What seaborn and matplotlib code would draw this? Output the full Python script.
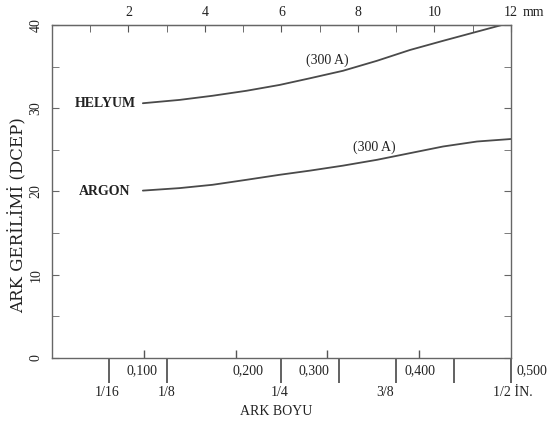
import numpy as np
import pandas as pd
import matplotlib
matplotlib.use("Agg")
import matplotlib.pyplot as plt
import seaborn as sns

# arc length (inch) and arc voltage
helyum_x = [0.099, 0.139, 0.175, 0.212, 0.248, 0.281, 0.317, 0.354, 0.390, 0.426, 0.463, 0.490]
helyum_v = [30.6, 31.0, 31.5, 32.1, 32.8, 33.6, 34.5, 35.7, 37.0, 38.1, 39.2, 40.0]
argon_x = [0.099, 0.139, 0.175, 0.212, 0.248, 0.281, 0.317, 0.354, 0.390, 0.426, 0.463, 0.500]
argon_v = [20.1, 20.4, 20.8, 21.4, 22.0, 22.5, 23.1, 23.8, 24.6, 25.4, 26.0, 26.3]

y_ticks = [0, 10, 20, 30, 40]
mm_ticks = [2, 4, 6, 8, 10, 12]
inch_ticks = [1/16, 1/8, 1/4, 5/16, 3/8, 7/16, 1/2]
frac_labels = ["1/16", "1/8", "1/4", "3/8", "1/2 İN."]
frac_label_x = [0.060, 0.125, 0.248, 0.363, 0.480]
dec_ticks = [0.1, 0.2, 0.3, 0.4]
dec_labels = ["0,100", "0,200", "0,300", "0,400", "0,500"]
dec_label_x = [0.098, 0.214, 0.285, 0.401, 0.523]

sns.set_style("white")
plt.rcParams["font.family"] = ["Liberation Serif", "DejaVu Serif"]

ink = "#222222"
line_col = "#4a4a4a"

fig = plt.figure(figsize=(5.56, 4.24), dpi=100)
ax = fig.add_axes([0.0935, 0.156, 0.8255, 0.785])

df_he = pd.DataFrame({"x": helyum_x, "v": helyum_v})
df_ar = pd.DataFrame({"x": argon_x, "v": argon_v})
sns.lineplot(data=df_he, x="x", y="v", color=line_col, lw=1.3, ax=ax)
sns.lineplot(data=df_ar, x="x", y="v", color=line_col, lw=1.3, ax=ax)

ax.set_xlim(0, 0.5)
ax.set_ylim(0, 40)

for s in ax.spines.values():
    s.set_color("#666666")
    s.set_linewidth(1.0)

# y axis
ax.set_yticks(y_ticks)
ax.set_yticks([5, 15, 25, 35], minor=True)
ax.set_yticklabels([str(t) for t in y_ticks], rotation=90, va="center", fontsize=10, color=ink)
ax.tick_params(axis="y", which="both", direction="in", length=5, color="#666666",
               right=True, left=True, pad=7)
ax.set_ylabel("")
ax.text(-0.074, 0.43, "ARK GERİLİMİ (DCEP)", transform=ax.transAxes, rotation=90,
        ha="center", va="center", fontsize=12, color=ink, family="DejaVu Serif")

# bottom axis: long ticks at sixteenths, short ticks at decimals
ax.set_xticks(inch_ticks)
ax.set_xticklabels([""] * len(inch_ticks))
ax.set_xticks(dec_ticks, minor=True)
ax.tick_params(axis="x", which="major", bottom=True, direction="out", length=18, width=1.3,
               color="#555555")
ax.tick_params(axis="x", which="minor", bottom=True, direction="in", length=6, width=1.0,
               color="#555555")
for xx, lab in zip(frac_label_x, frac_labels):
    ha = "left" if lab.startswith("1/2") else "center"
    ax.text(xx, -0.105, lab, transform=ax.get_xaxis_transform(), ha=ha, va="center",
            fontsize=10, color=ink)
for xx, lab in zip(dec_label_x, dec_labels):
    ax.text(xx, -0.039, lab, transform=ax.get_xaxis_transform(), ha="center", va="center",
            fontsize=10, color=ink)
ax.set_xlabel("")
ax.text(0.488, -0.162, "ARK BOYU", transform=ax.transAxes, ha="center", va="center",
        fontsize=10, color=ink)

# top axis in mm
top = ax.secondary_xaxis("top", functions=(lambda x: x * 24, lambda m: m / 24))
top.set_xticks(mm_ticks)
top.set_xticks([1, 3, 5, 7, 9, 11], minor=True)
top.set_xticklabels([str(m) for m in mm_ticks], fontsize=10, color=ink)
top.tick_params(axis="x", which="both", top=True, direction="in", length=5, color="#555555",
                pad=4)
top.spines["top"].set_color("#666666")
ax.text(1.026, 1.039, "mm", transform=ax.transAxes, ha="left", va="center",
        fontsize=10, color=ink)

# curve labels
ax.text(0.0915, 30.6, "HELYUM", ha="right", va="center", fontsize=10,
        fontweight="bold", color=ink)
ax.text(0.085, 20.0, "ARGON", ha="right", va="center", fontsize=10,
        fontweight="bold", color=ink)
ax.text(0.2995, 35.8, "(300 A)", ha="center", va="center", fontsize=10, color=ink)
ax.text(0.351, 25.3, "(300 A)", ha="center", va="center", fontsize=10, color=ink)

fig.savefig("out.png", dpi=100)
